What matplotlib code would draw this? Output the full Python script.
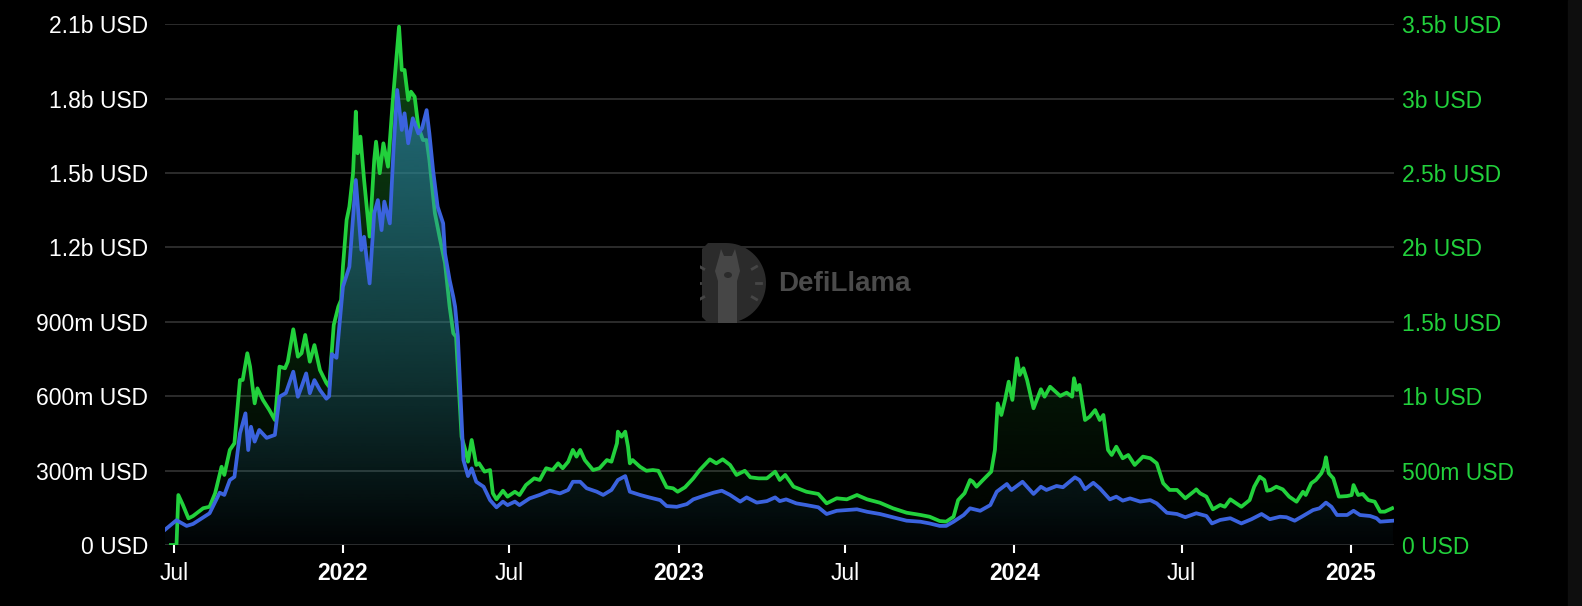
#!/usr/bin/env python3
import numpy as np
import pandas as pd
import matplotlib
matplotlib.use("Agg")
import matplotlib.pyplot as plt
import matplotlib.dates as mdates
import matplotlib.colors as mcolors
from matplotlib.patches import Polygon, Ellipse, Rectangle

# values in millions of USD
blue_dates = [
    "2021-06-21", "2021-07-04", "2021-07-15", "2021-07-22", "2021-08-09", "2021-08-20",
    "2021-08-25", "2021-08-31", "2021-09-05", "2021-09-11", "2021-09-17", "2021-09-20",
    "2021-09-23", "2021-09-27", "2021-10-02", "2021-10-10", "2021-10-19", "2021-10-24",
    "2021-10-31", "2021-11-08", "2021-11-13", "2021-11-17", "2021-11-22", "2021-11-26",
    "2021-12-01", "2021-12-07", "2021-12-14", "2021-12-17", "2021-12-20", "2021-12-25",
    "2022-01-01", "2022-01-08", "2022-01-15", "2022-01-21", "2022-01-24", "2022-01-30",
    "2022-02-04", "2022-02-08", "2022-02-12", "2022-02-15", "2022-02-21", "2022-02-25",
    "2022-03-01", "2022-03-06", "2022-03-09", "2022-03-13", "2022-03-18", "2022-03-24",
    "2022-03-28", "2022-04-02", "2022-04-05", "2022-04-09", "2022-04-14", "2022-04-20",
    "2022-04-22", "2022-04-27", "2022-05-01", "2022-05-03", "2022-05-06", "2022-05-10",
    "2022-05-12", "2022-05-17", "2022-05-21", "2022-05-26", "2022-06-03", "2022-06-10",
    "2022-06-17", "2022-06-24", "2022-06-29", "2022-07-07", "2022-07-12", "2022-07-23",
    "2022-08-03", "2022-08-14", "2022-08-25", "2022-09-03", "2022-09-08", "2022-09-16",
    "2022-09-23", "2022-10-04", "2022-10-11", "2022-10-20", "2022-10-27", "2022-11-04",
    "2022-11-09", "2022-11-20", "2022-11-30", "2022-12-12", "2022-12-19", "2022-12-30",
    "2023-01-10", "2023-01-17", "2023-01-28", "2023-02-08", "2023-02-17", "2023-02-26",
    "2023-03-09", "2023-03-16", "2023-03-27", "2023-04-07", "2023-04-16", "2023-04-21",
    "2023-04-28", "2023-05-09", "2023-05-20", "2023-06-02", "2023-06-11", "2023-06-22",
    "2023-07-03", "2023-07-14", "2023-07-25", "2023-08-08", "2023-08-22", "2023-09-06",
    "2023-09-21", "2023-10-01", "2023-10-12", "2023-10-19", "2023-10-27", "2023-11-07",
    "2023-11-14", "2023-11-25", "2023-12-06", "2023-12-13", "2023-12-24", "2023-12-29",
    "2024-01-10", "2024-01-22", "2024-01-30", "2024-02-05", "2024-02-16", "2024-02-23",
    "2024-03-07", "2024-03-12", "2024-03-18", "2024-03-27", "2024-04-03", "2024-04-14",
    "2024-04-21", "2024-04-28", "2024-05-06", "2024-05-17", "2024-05-28", "2024-06-04",
    "2024-06-15", "2024-06-26", "2024-07-05", "2024-07-17", "2024-07-28", "2024-08-03",
    "2024-08-12", "2024-08-23", "2024-09-04", "2024-09-15", "2024-09-26", "2024-10-05",
    "2024-10-16", "2024-10-23", "2024-11-01", "2024-11-10", "2024-11-21", "2024-11-28",
    "2024-12-05", "2024-12-11", "2024-12-17", "2024-12-28", "2025-01-04", "2025-01-11",
    "2025-01-22", "2025-01-29", "2025-02-02", "2025-02-16",
]
blue_values = [
    60, 100, 77, 85, 128, 211, 202, 262, 275, 450, 531, 383,
    477, 417, 464, 432, 444, 598, 613, 699, 598, 638, 692, 612,
    665, 625, 590, 600, 770, 755, 1042, 1122, 1472, 1190, 1243, 1055,
    1338, 1391, 1270, 1385, 1297, 1593, 1835, 1674, 1741, 1620, 1721, 1660,
    1681, 1754, 1660, 1512, 1364, 1297, 1176, 1069, 1001, 961, 840, 504,
    343, 278, 309, 255, 235, 181, 152, 175, 161, 175, 161, 188,
    202, 219, 208, 222, 255, 255, 229, 215, 202, 222, 262, 278,
    215, 202, 192, 181, 157, 154, 165, 184, 198, 211, 219, 202,
    175, 192, 171, 177, 192, 177, 184, 168, 161, 152, 125, 138,
    141, 144, 134, 125, 112, 98, 94, 87, 77, 77, 94, 121,
    148, 138, 161, 215, 246, 222, 255, 206, 235, 222, 238, 233,
    273, 262, 225, 251, 229, 184, 195, 179, 188, 175, 181, 168,
    130, 125, 112, 128, 117, 87, 101, 108, 87, 104, 125, 104,
    114, 112, 98, 117, 141, 148, 171, 154, 121, 121, 138, 121,
    117, 108, 94, 98,
]

green_dates = [
    "2021-06-28", "2021-07-04", "2021-07-06", "2021-07-11", "2021-07-17", "2021-07-22",
    "2021-08-02", "2021-08-09", "2021-08-15", "2021-08-22", "2021-08-25", "2021-08-31",
    "2021-09-05", "2021-09-11", "2021-09-14", "2021-09-19", "2021-09-22", "2021-09-27",
    "2021-09-30", "2021-10-06", "2021-10-13", "2021-10-19", "2021-10-24", "2021-10-30",
    "2021-11-02", "2021-11-08", "2021-11-13", "2021-11-17", "2021-11-21", "2021-11-26",
    "2021-12-01", "2021-12-07", "2021-12-14", "2021-12-17", "2021-12-22", "2021-12-27",
    "2021-12-30", "2022-01-01", "2022-01-05", "2022-01-08", "2022-01-12", "2022-01-15",
    "2022-01-17", "2022-01-20", "2022-01-24", "2022-01-30", "2022-02-04", "2022-02-06",
    "2022-02-10", "2022-02-14", "2022-02-19", "2022-02-24", "2022-03-03", "2022-03-06",
    "2022-03-09", "2022-03-13", "2022-03-16", "2022-03-20", "2022-03-24", "2022-03-29",
    "2022-04-02", "2022-04-05", "2022-04-11", "2022-04-16", "2022-04-22", "2022-04-27",
    "2022-05-01", "2022-05-04", "2022-05-10", "2022-05-15", "2022-05-17", "2022-05-21",
    "2022-05-26", "2022-05-29", "2022-06-04", "2022-06-10", "2022-06-13", "2022-06-17",
    "2022-06-24", "2022-06-29", "2022-07-07", "2022-07-12", "2022-07-19", "2022-07-28",
    "2022-08-03", "2022-08-10", "2022-08-17", "2022-08-23", "2022-08-28", "2022-09-03",
    "2022-09-08", "2022-09-12", "2022-09-16", "2022-09-21", "2022-09-30", "2022-10-07",
    "2022-10-15", "2022-10-20", "2022-10-26", "2022-10-27", "2022-10-31", "2022-11-04",
    "2022-11-07", "2022-11-09", "2022-11-12", "2022-11-20", "2022-11-27", "2022-12-04",
    "2022-12-10", "2022-12-15", "2022-12-19", "2022-12-26", "2022-12-31", "2023-01-08",
    "2023-01-17", "2023-01-24", "2023-02-04", "2023-02-11", "2023-02-18", "2023-02-26",
    "2023-03-05", "2023-03-14", "2023-03-20", "2023-03-29", "2023-04-07", "2023-04-16",
    "2023-04-21", "2023-04-27", "2023-05-06", "2023-05-20", "2023-06-02", "2023-06-11",
    "2023-06-22", "2023-07-03", "2023-07-14", "2023-07-25", "2023-08-08", "2023-08-22",
    "2023-09-06", "2023-09-21", "2023-10-01", "2023-10-12", "2023-10-19", "2023-10-27",
    "2023-11-01", "2023-11-08", "2023-11-14", "2023-11-17", "2023-11-21", "2023-11-28",
    "2023-12-07", "2023-12-11", "2023-12-14", "2023-12-18", "2023-12-22", "2023-12-26",
    "2023-12-30", "2024-01-04", "2024-01-07", "2024-01-11", "2024-01-15", "2024-01-22",
    "2024-01-30", "2024-02-03", "2024-02-09", "2024-02-20", "2024-02-27", "2024-03-04",
    "2024-03-06", "2024-03-09", "2024-03-12", "2024-03-18", "2024-03-23", "2024-03-29",
    "2024-04-03", "2024-04-07", "2024-04-12", "2024-04-16", "2024-04-21", "2024-04-28",
    "2024-05-04", "2024-05-11", "2024-05-20", "2024-05-28", "2024-06-04", "2024-06-11",
    "2024-06-18", "2024-06-26", "2024-07-05", "2024-07-14", "2024-07-17", "2024-07-21",
    "2024-07-28", "2024-08-04", "2024-08-12", "2024-08-17", "2024-08-23", "2024-09-04",
    "2024-09-13", "2024-09-18", "2024-09-24", "2024-09-29", "2024-10-02", "2024-10-06",
    "2024-10-12", "2024-10-19", "2024-10-26", "2024-11-03", "2024-11-10", "2024-11-13",
    "2024-11-19", "2024-11-24", "2024-11-30", "2024-12-03", "2024-12-05", "2024-12-08",
    "2024-12-13", "2024-12-19", "2024-12-28", "2025-01-02", "2025-01-04", "2025-01-09",
    "2025-01-14", "2025-01-20", "2025-01-27", "2025-02-02", "2025-02-07", "2025-02-15",
]
green_values = [
    0, 0, 336, 269, 179, 195, 247, 257, 348, 526, 471, 639,
    684, 1109, 1109, 1289, 1199, 952, 1053, 975, 907, 840, 1199, 1188,
    1232, 1450, 1266, 1289, 1412, 1232, 1344, 1176, 1089, 1064, 1479, 1602,
    1647, 1871, 2185, 2274, 2499, 2913, 2633, 2745, 2454, 2073, 2588, 2711,
    2499, 2700, 2543, 2969, 3484, 3193, 3193, 2991, 3047, 3013, 2812, 2722,
    2722, 2588, 2230, 2073, 1894, 1602, 1423, 1400, 728, 618, 560, 706,
    538, 549, 493, 504, 348, 307, 365, 325, 358, 336, 403, 448,
    437, 516, 504, 549, 516, 560, 639, 594, 639, 571, 504, 516,
    571, 560, 684, 762, 728, 762, 661, 549, 571, 526, 499, 504,
    499, 437, 388, 381, 358, 388, 448, 504, 576, 549, 576, 538,
    471, 499, 455, 448, 448, 493, 437, 471, 392, 358, 343, 280,
    314, 307, 336, 307, 284, 247, 217, 202, 190, 161, 157, 190,
    302, 348, 437, 425, 392, 437, 493, 639, 952, 874, 975, 1098,
    975, 1255, 1143, 1188, 1109, 919, 1047, 997, 1064, 1002, 1024, 997,
    1121, 1042, 1076, 840, 862, 907, 840, 874, 639, 605, 661, 583,
    605, 538, 594, 583, 549, 415, 370, 370, 314, 358, 374, 348,
    325, 240, 269, 257, 307, 257, 302, 392, 459, 437, 365, 370,
    392, 374, 325, 291, 358, 336, 415, 437, 482, 526, 590, 482,
    448, 325, 329, 336, 403, 336, 343, 302, 291, 224, 224, 247,
]

x_ticks = ["2021-07-01", "2022-01-01", "2022-07-01", "2023-01-01",
           "2023-07-01", "2024-01-01", "2024-07-01", "2025-01-01"]
x_labels = ["Jul", "2022", "Jul", "2023", "Jul", "2024", "Jul", "2025"]
left_ticks = [0, 300, 600, 900, 1200, 1500, 1800, 2100]
left_labels = ["0 USD", "300m USD", "600m USD", "900m USD",
               "1.2b USD", "1.5b USD", "1.8b USD", "2.1b USD"]
right_ticks = [0, 500, 1000, 1500, 2000, 2500, 3000, 3500]
right_labels = ["0 USD", "500m USD", "1b USD", "1.5b USD",
                "2b USD", "2.5b USD", "3b USD", "3.5b USD"]

BLUE = "#3b63de"
GREEN = "#22d13c"
W, H = 1582, 606

plt.rcParams["font.family"] = ["Liberation Sans", "DejaVu Sans"]


def gradient_fill(ax, x, y, color, a_top, a_bot, ymax, xlim):
    """fill under a line with a vertical alpha gradient"""
    poly = ax.fill_between(x, y, 0, facecolor="none", edgecolor="none")
    path = poly.get_paths()[0]
    img = np.zeros((256, 1, 4))
    img[:, :, :3] = mcolors.to_rgb(color)
    img[:, 0, 3] = np.linspace(a_top, a_bot, 256)
    im = ax.imshow(img, aspect="auto", origin="upper", zorder=1,
                   extent=[xlim[0], xlim[1], 0, ymax], interpolation="bilinear")
    im.set_clip_path(path, transform=ax.transData)


def main():
    bx = pd.to_datetime(blue_dates)
    gx = pd.to_datetime(green_dates)
    xlim = (mdates.date2num(pd.Timestamp("2021-06-21 12:00")),
            mdates.date2num(pd.Timestamp("2025-02-17")))

    fig = plt.figure(figsize=(W / 100, H / 100), dpi=100, facecolor="black")
    ax2 = fig.add_axes([165 / W, 1 - 545 / H, (1394 - 165) / W, (545 - 24.3) / H])
    ax1 = ax2.twinx()
    # ax2 (bottom, green) keeps the right axis, ax1 (top, blue) the left one
    ax1.yaxis.tick_left()
    ax2.yaxis.tick_right()
    ax1.set_zorder(2)
    ax2.set_zorder(1)
    ax1.patch.set_visible(False)
    ax2.set_facecolor("black")

    # green series, right axis
    gradient_fill(ax2, gx, green_values, "#1f9a2c", 0.45, 0.0, 3500, xlim)
    ax2.plot(gx, green_values, color=GREEN, lw=2.7, zorder=3, solid_joinstyle="round")
    ax2.set_ylim(0, 3500)
    ax2.set_yticks(right_ticks)
    ax2.set_yticklabels(right_labels)
    ax2.grid(axis="y", color="#383838", lw=1.1)
    ax2.set_axisbelow(True)
    ax2.tick_params(axis="y", length=0, pad=6, labelsize=16.5, labelcolor=GREEN)

    ax2.set_xlim(*xlim)
    ax2.set_xticks(pd.to_datetime(x_ticks))
    ax2.set_xticklabels(x_labels)
    ax2.tick_params(axis="x", length=6, width=1.5, color="white", pad=6,
                    labelsize=16.5, labelcolor="white")
    for lab in ax2.get_xticklabels():
        if lab.get_text() != "Jul":
            lab.set_fontweight("bold")

    # blue series, left axis
    gradient_fill(ax1, bx, blue_values, "#2f86b8", 0.7, 0.03, 2100, xlim)
    ax1.plot(bx, blue_values, color=BLUE, lw=2.7, zorder=3, solid_joinstyle="round")
    ax1.set_ylim(0, 2100)
    ax1.set_yticks(left_ticks)
    ax1.set_yticklabels(left_labels)
    ax1.tick_params(axis="y", length=0, pad=12, labelsize=16.5, labelcolor="white")
    ax1.set_xlim(*xlim)

    for a in (ax1, ax2):
        for s in a.spines.values():
            s.set_visible(False)

    # watermark, between the two series layers
    logo = fig.add_axes([700 / W, 1 - 323 / H, 66 / W, 80 / H], zorder=1.5)
    logo.set_xlim(-2, 64)
    logo.set_ylim(0, 80)
    logo.axis("off")
    t = np.linspace(np.pi / 2, -np.pi / 2, 40)
    d_pts = [(0, 6), (0, 74), (6, 80)] + \
        [(24 + 40 * np.cos(a), 40 + 40 * np.sin(a)) for a in t] + [(6, 0)]
    logo.add_patch(Polygon(d_pts, closed=True, color="#2b2b2b", lw=0))
    llama = [(16, 0), (16, 42), (13, 52), (17, 66), (19, 74), (22, 67), (30, 67),
             (33, 74), (35, 66), (38, 52), (35, 42), (35, 0)]
    logo.add_patch(Polygon(llama, closed=True, color="#464646", lw=0))
    logo.add_patch(Ellipse((26, 48), 8, 6, color="#2b2b2b", lw=0))
    for a in np.radians([150, 180, 210, 30, 0, -30]):
        logo.plot([26 + 28 * np.cos(a), 26 + 33 * np.cos(a)],
                  [40 + 28 * np.sin(a), 40 + 33 * np.sin(a)], color="#464646", lw=2)
    fig.text(778 / W, 1 - 284 / H, "DefiLlama", color="#4b4b4b", fontsize=20,
             fontweight="bold", va="center", ha="left", zorder=1.5)

    fig.patches.append(Rectangle((1568 / W, 0), 14 / W, 1, transform=fig.transFigure,
                                 color="#0e0e0e", zorder=-1))

    fig.savefig("out.png", dpi=100, facecolor="black")


if __name__ == "__main__":
    main()
